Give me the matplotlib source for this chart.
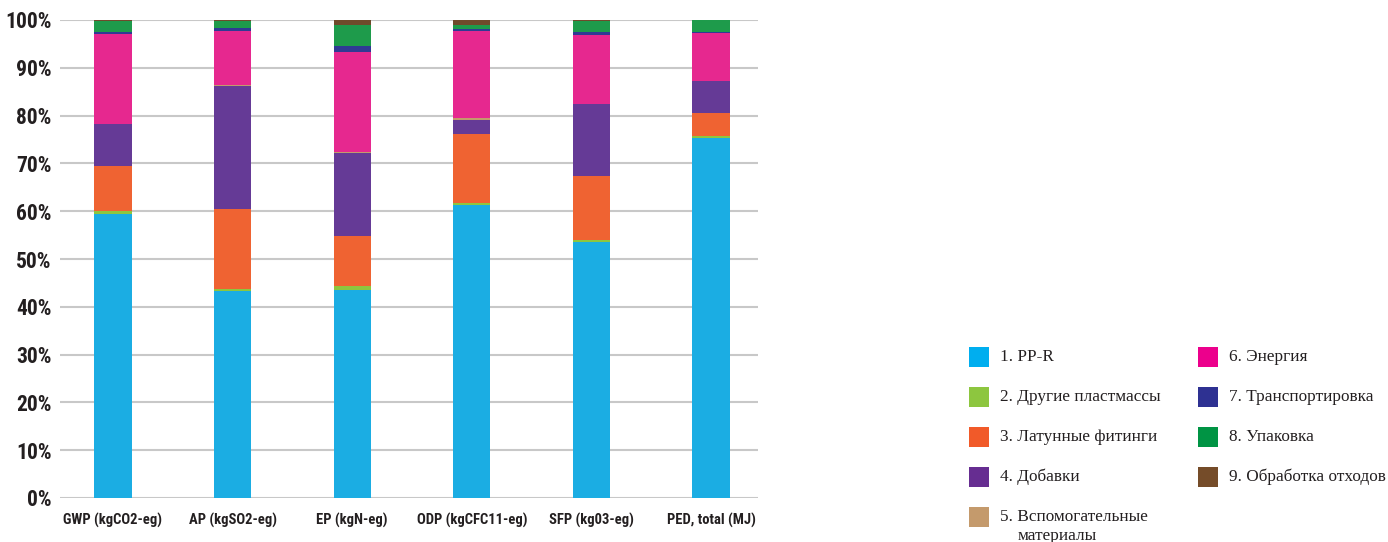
import numpy as np
import matplotlib.pyplot as plt
from matplotlib.patches import Rectangle

# Categories (impact indicators)
categories = ['GWP (kgCO2-eg)', 'AP (kgSO2-eg)', 'EP (kgN-eg)',
              'ODP (kgCFC11-eg)', 'SFP (kg03-eg)', 'PED, total (MJ)']

# Shares of each life-cycle stage, %
pp_r           = [59.5, 43.4, 43.5, 61.3, 53.5, 75.4]
other_plastics = [0.5, 0.4, 0.9, 0.4, 0.5, 0.3]
brass          = [9.5, 16.7, 10.5, 14.5, 13.4, 4.9]
additives      = [8.7, 25.7, 17.3, 2.9, 15.0, 6.6]
auxiliary      = [0.1, 0.1, 0.2, 0.3, 0.1, 0.1]
energy         = [18.7, 11.4, 21.0, 18.4, 14.3, 10.0]
transport      = [0.4, 0.7, 1.2, 0.3, 0.7, 0.1]
packaging      = [2.3, 1.3, 4.4, 0.9, 2.3, 2.6]
waste          = [0.3, 0.3, 1.0, 1.0, 0.2, 0.0]

labels = ['1. PP-R', '2. Другие пластмассы', '3. Латунные фитинги',
          '4. Добавки', '5. Вспомогательные', '6. Энергия',
          '7. Транспортировка', '8. Упаковка', '9. Обработка отходов']

series = [pp_r, other_plastics, brass, additives, auxiliary,
          energy, transport, packaging, waste]

bar_colors = ['#1badE3', '#8dc63f', '#ef6332', '#653a96', '#c49a6c',
              '#e6288f', '#2f3a93', '#1e9b4b', '#6f4a2b']
legend_colors = ['#00aeef', '#8dc63f', '#f15a29', '#662d91', '#c49a6c',
                 '#ec008c', '#2e3192', '#009444', '#754c29']

W, H = 1388, 542
fig = plt.figure(figsize=(W / 100, H / 100), dpi=100)
ax = fig.add_axes([60 / W, 1 - 498 / H, 698 / W, 478 / H])

x = np.arange(len(categories))
bottom = np.zeros(len(categories))
for vals, col in zip(series, bar_colors):
    ax.bar(x, vals, 0.31, bottom=bottom, color=col, linewidth=0, zorder=3)
    bottom += np.array(vals)

ax.set_xlim(-0.443, 5.393)
ax.set_ylim(0, 100)
ax.set_yticks(np.arange(0, 101, 10))
ax.set_yticklabels(['%d%%' % v for v in range(0, 101, 10)])
ax.set_xticks(x)
ax.set_xticklabels(categories)
ax.grid(axis='y', color='#c8c8c8', linewidth=1.5, zorder=0)
ax.set_axisbelow(True)
for s in ax.spines.values():
    s.set_visible(False)
ax.tick_params(length=0)
ax.tick_params(axis='y', pad=6)
ax.tick_params(axis='x', pad=11)

narrow = ['Roboto Condensed', 'Liberation Sans Narrow', 'DejaVu Sans']
for t in ax.get_yticklabels():
    t.set_fontfamily(narrow)
    t.set_fontstretch('condensed')
    t.set_fontweight('bold')
    t.set_fontsize(15.5)
    t.set_color('#231f20')
for t in ax.get_xticklabels():
    t.set_fontfamily(narrow)
    t.set_fontstretch('condensed')
    t.set_fontweight('bold')
    t.set_fontsize(10.5)
    t.set_color('#231f20')

# legend, two columns drawn in pixel positions
serif = ['Liberation Serif', 'DejaVu Serif']
col_x = [969, 1198]
row_y = [357, 397, 437, 477, 517]
for i, (lab, col) in enumerate(zip(labels, legend_colors)):
    c, r = (0, i) if i < 5 else (1, i - 5)
    px, py = col_x[c], row_y[r]
    fig.add_artist(Rectangle((px / W, 1 - (py + 10) / H), 20 / W, 20 / H,
                             transform=fig.transFigure, color=col, linewidth=0))
    fig.text((px + 31) / W, 1 - py / H, lab, family=serif, fontsize=12.4,
             va='center', ha='left', color='#231f20')
fig.text(1018 / W, 1 - 536 / H, 'материалы', family=serif, fontsize=12.4,
         va='center', ha='left', color='#231f20')

fig.savefig('out.png', dpi=100)
